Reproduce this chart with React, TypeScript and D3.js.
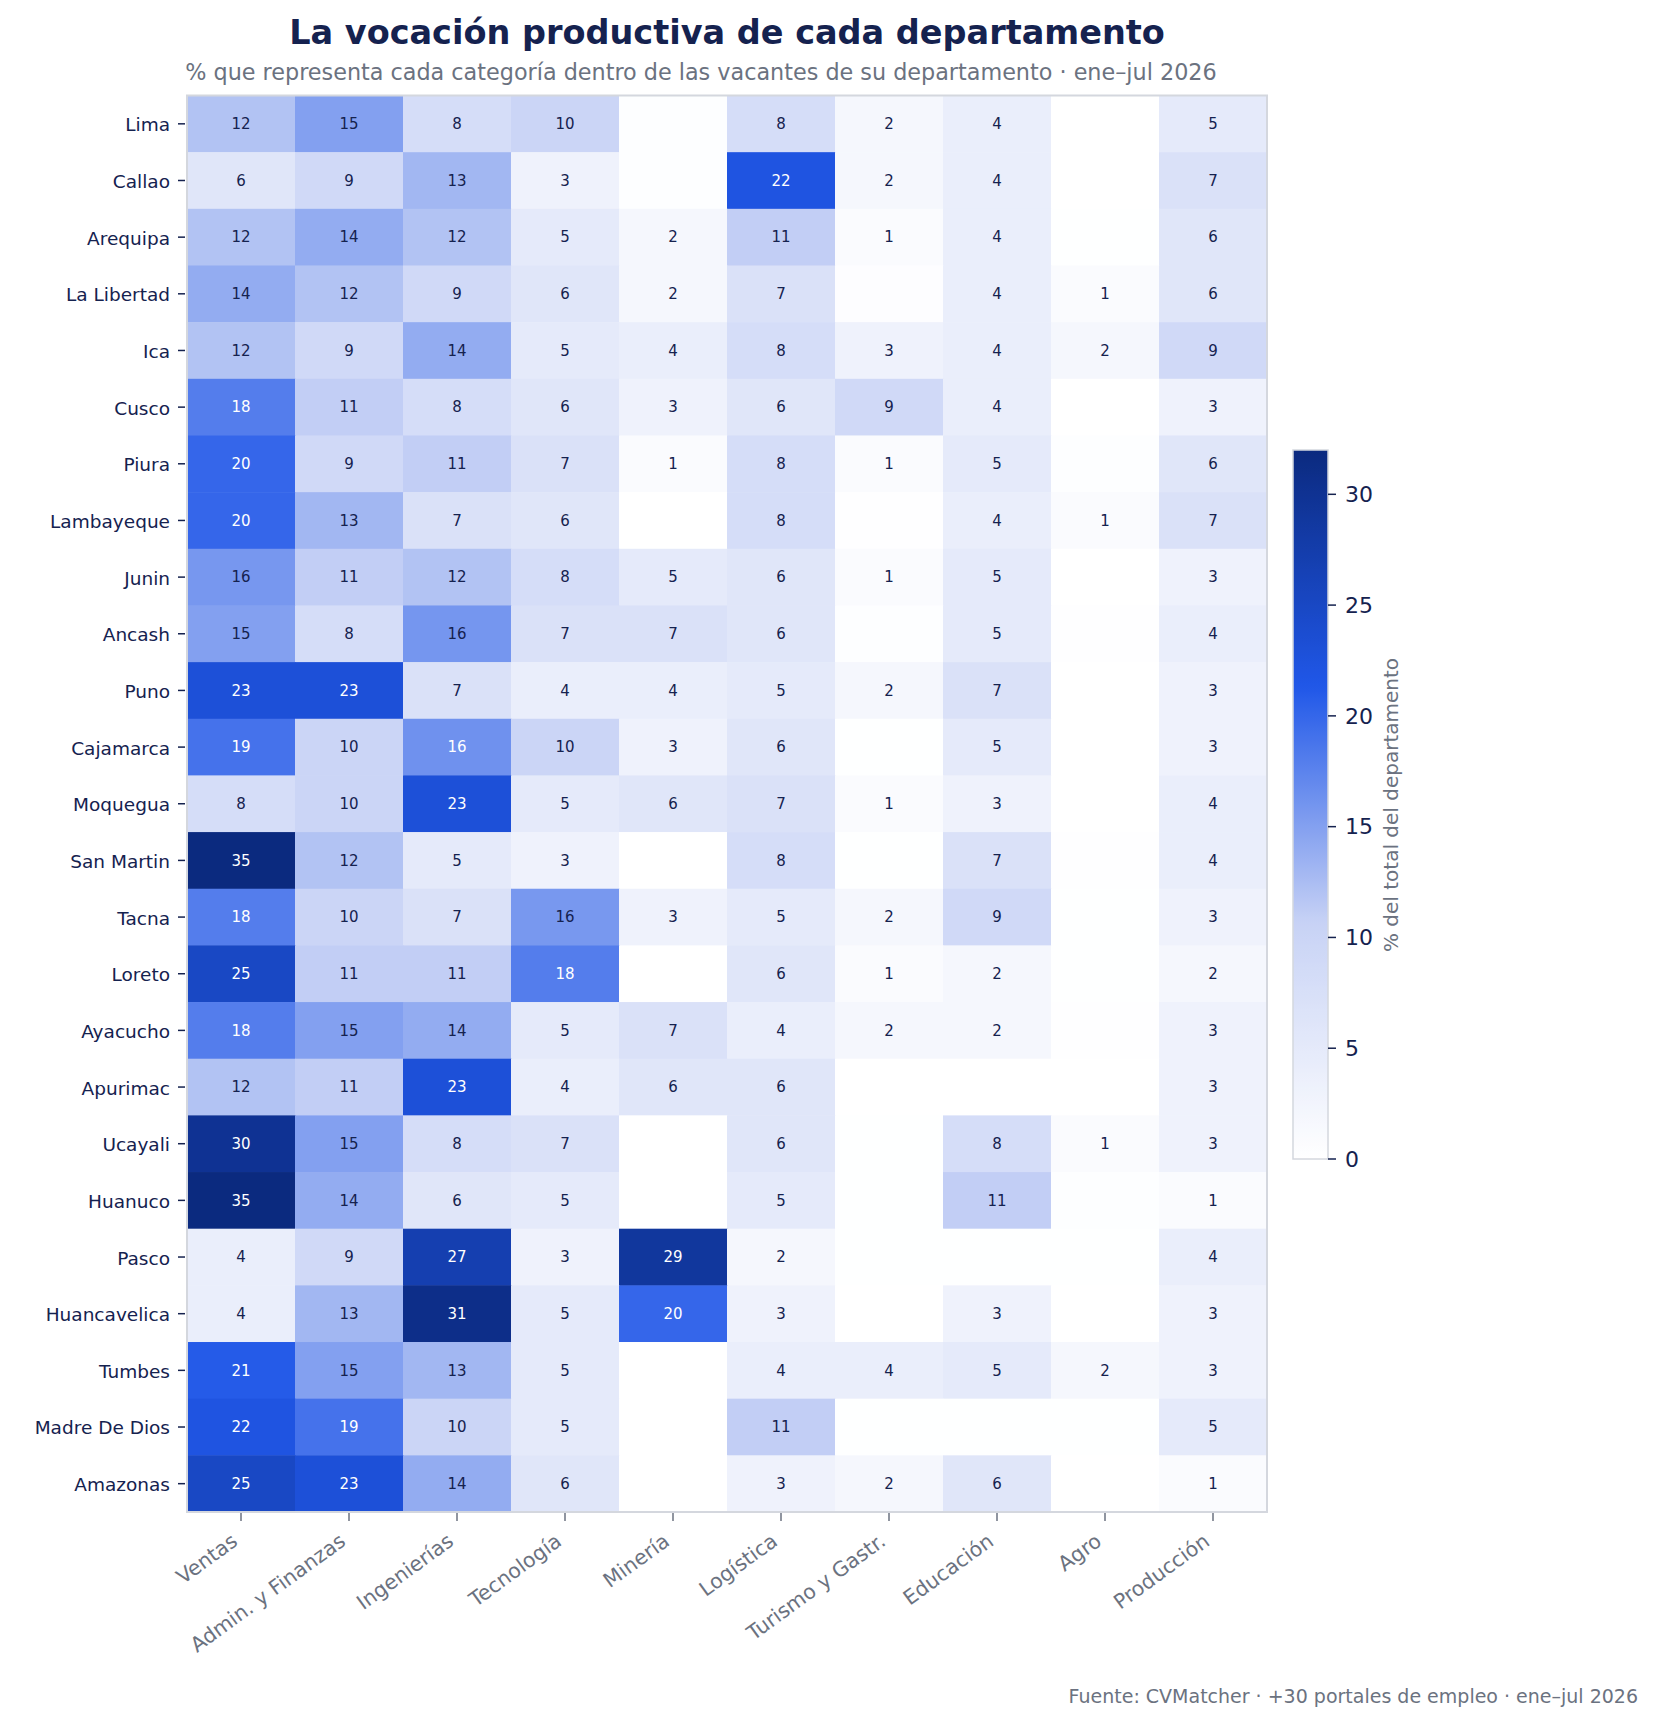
import React, { useEffect } from "react";
import * as d3 from "d3";

const departamentos = [
  "Lima", "Callao", "Arequipa", "La Libertad", "Ica", "Cusco", "Piura", "Lambayeque",
  "Junin", "Ancash", "Puno", "Cajamarca", "Moquegua", "San Martin", "Tacna", "Loreto",
  "Ayacucho", "Apurimac", "Ucayali", "Huanuco", "Pasco", "Huancavelica", "Tumbes",
  "Madre De Dios", "Amazonas",
];

const categorias = [
  "Ventas", "Admin. y Finanzas", "Ingenierías", "Tecnología", "Minería",
  "Logística", "Turismo y Gastr.", "Educación", "Agro", "Producción",
];

// % de vacantes por categoría, una fila por departamento (mismo orden que categorias)
const porcentajes: number[][] = [
  [12, 15, 8, 10, 0.3, 8, 2, 4, 0, 5],
  [6, 9, 13, 3, 0.3, 22, 2, 4, 0, 7],
  [12, 14, 12, 5, 2, 11, 1, 4, 0.1, 6],
  [14, 12, 9, 6, 2, 7, 0.4, 4, 1, 6],
  [12, 9, 14, 5, 4, 8, 3, 4, 2, 9],
  [18, 11, 8, 6, 3, 6, 9, 4, 0, 3],
  [20, 9, 11, 7, 1, 8, 1, 5, 0.3, 6],
  [20, 13, 7, 6, 0, 8, 0.2, 4, 1, 7],
  [15.8, 11, 12, 8, 5, 6, 1, 5, 0, 3],
  [15, 8, 15.9, 7, 7, 6, 0.3, 5, 0.2, 4],
  [23, 23, 7, 4, 4, 5, 2, 7, 0, 3],
  [19, 10, 16.3, 10, 3, 6, 0.1, 5, 0, 3],
  [8, 10, 23, 5, 6, 7, 1, 3, 0, 4],
  [35, 12, 5, 3, 0, 8, 0.1, 7, 0.2, 4],
  [18, 10, 7, 15.7, 3, 5, 2, 9, 0.1, 3],
  [25, 11, 11, 18, 0, 6, 1, 2, 0.1, 2],
  [18, 15, 14, 5, 7, 4, 2, 2, 0.2, 3],
  [12, 11, 23, 4, 6, 6, 0, 0, 0, 3],
  [30, 15, 8, 7, 0, 6, 0.1, 8, 1, 3],
  [35, 14, 6, 5, 0, 5, 0.1, 11, 0.3, 1],
  [4, 9, 27, 3, 29, 2, 0.1, 0.1, 0.1, 4],
  [4, 13, 31, 5, 20, 3, 0, 3, 0, 3],
  [21, 15, 13, 5, 0, 4, 4, 5, 2, 3],
  [22, 19, 10, 5, 0, 11, 0.1, 0.1, 0.1, 5],
  [25, 23, 14, 6, 0, 3, 2, 6, 0, 1],
];

const colorbarTicks = [0, 5, 10, 15, 20, 25, 30];
const escalaMax = 32;
const paleta = ["#ffffff", "#c7d2f5", "#2057e8", "#0b2a7f"];

const titulo = "La vocación productiva de cada departamento";
const subtitulo = "% que representa cada categoría dentro de las vacantes de su departamento · ene–jul 2026";
const fuente = "Fuente: CVMatcher · +30 portales de empleo · ene–jul 2026";
const etiquetaBarra = "% del total del departamento";

const W = 1655;
const H = 1722;
const M = { left: 187, right: 1267, top: 95.5, bottom: 1512 };
const CB = { x: 1293, w: 35, top: 450, bottom: 1159 };
const NAVY = "#15224f";
const GRIS = "#6b7280";
const FONT = "DejaVu Sans, sans-serif";

export default function App() {
  useEffect(() => {
    document.body.style.margin = "0";
  }, []);

  const x = d3.scaleBand<string>().domain(categorias).range([M.left, M.right]);
  const y = d3.scaleBand<string>().domain(departamentos).range([M.top, M.bottom]);
  const color = d3
    .scaleLinear<string>()
    .domain(paleta.map((_, i) => (i * escalaMax) / (paleta.length - 1)))
    .range(paleta)
    .interpolate(d3.interpolateRgb)
    .clamp(true);
  const cbScale = d3.scaleLinear().domain([0, escalaMax]).range([CB.bottom, CB.top]);

  const gradStops = d3.range(0, 101).map((i) => ({
    off: i,
    c: color((i / 100) * escalaMax),
  }));

  return (
    <svg
      width={W}
      height={H}
      style={{ display: "block", position: "absolute", left: 0, top: 0, background: "#fff" }}
      fontFamily={FONT}
    >
      <defs>
        <linearGradient id="cbGrad" x1="0" y1="1" x2="0" y2="0">
          {gradStops.map((s) => (
            <stop key={s.off} offset={`${s.off}%`} stopColor={s.c} />
          ))}
        </linearGradient>
      </defs>

      <text x={727} y={44} textAnchor="middle" fontSize={33.5} fontWeight="bold" fill={NAVY}>
        {titulo}
      </text>
      <text x={701} y={80} textAnchor="middle" fontSize={22.3} fill={GRIS}>
        {subtitulo}
      </text>

      {/* celdas */}
      {porcentajes.map((fila, r) =>
        fila.map((v, c) => {
          const cx = x(categorias[c])!;
          const cy = y(departamentos[r])!;
          const show = Math.round(v) >= 1;
          return (
            <g key={`${r}-${c}`}>
              <rect x={cx} y={cy} width={x.bandwidth() + 0.5} height={y.bandwidth() + 0.5} fill={color(v)} />
              {show && (
                <text
                  x={cx + x.bandwidth() / 2}
                  y={cy + y.bandwidth() / 2}
                  dy="0.35em"
                  textAnchor="middle"
                  fontSize={15}
                  fill={v > escalaMax / 2 ? "#ffffff" : NAVY}
                >
                  {d3.format(".0f")(v)}
                </text>
              )}
            </g>
          );
        })
      )}

      <rect
        x={M.left}
        y={M.top}
        width={M.right - M.left}
        height={M.bottom - M.top}
        fill="none"
        stroke="#d4d7de"
        strokeWidth={2}
      />

      {/* eje y */}
      {departamentos.map((d) => {
        const cy = y(d)! + y.bandwidth() / 2;
        return (
          <g key={d}>
            <line x1={M.left - 9} x2={M.left - 2} y1={cy} y2={cy} stroke={NAVY} strokeWidth={1.5} />
            <text x={M.left - 17} y={cy + 1} dy="0.35em" textAnchor="end" fontSize={18.5} fill={NAVY}>
              {d}
            </text>
          </g>
        );
      })}

      {/* eje x */}
      {categorias.map((c) => {
        const cx = x(c)! + x.bandwidth() / 2;
        return (
          <g key={c}>
            <line x1={cx} x2={cx} y1={M.bottom + 1} y2={M.bottom + 9} stroke={GRIS} strokeWidth={1.5} />
            <text
              transform={`translate(${cx - 2},${M.bottom + 32}) rotate(-36)`}
              textAnchor="end"
              fontSize={20.5}
              fill={GRIS}
            >
              {c}
            </text>
          </g>
        );
      })}

      {/* barra de color */}
      <rect x={CB.x} y={CB.top} width={CB.w} height={CB.bottom - CB.top} fill="url(#cbGrad)" stroke="#d4d7de" strokeWidth={1.5} />
      {colorbarTicks.map((t) => (
        <g key={t}>
          <line x1={CB.x + CB.w} x2={CB.x + CB.w + 8} y1={cbScale(t)} y2={cbScale(t)} stroke={NAVY} strokeWidth={1.5} />
          <text x={CB.x + CB.w + 17} y={cbScale(t)} dy="0.35em" fontSize={22} fill={NAVY}>
            {t}
          </text>
        </g>
      ))}
      <text
        transform={`translate(${1391},${805}) rotate(-90)`}
        textAnchor="middle"
        dy="0.35em"
        fontSize={20}
        fill={GRIS}
      >
        {etiquetaBarra}
      </text>

      <text x={1638} y={1703} textAnchor="end" fontSize={19} fill={GRIS}>
        {fuente}
      </text>
    </svg>
  );
}
